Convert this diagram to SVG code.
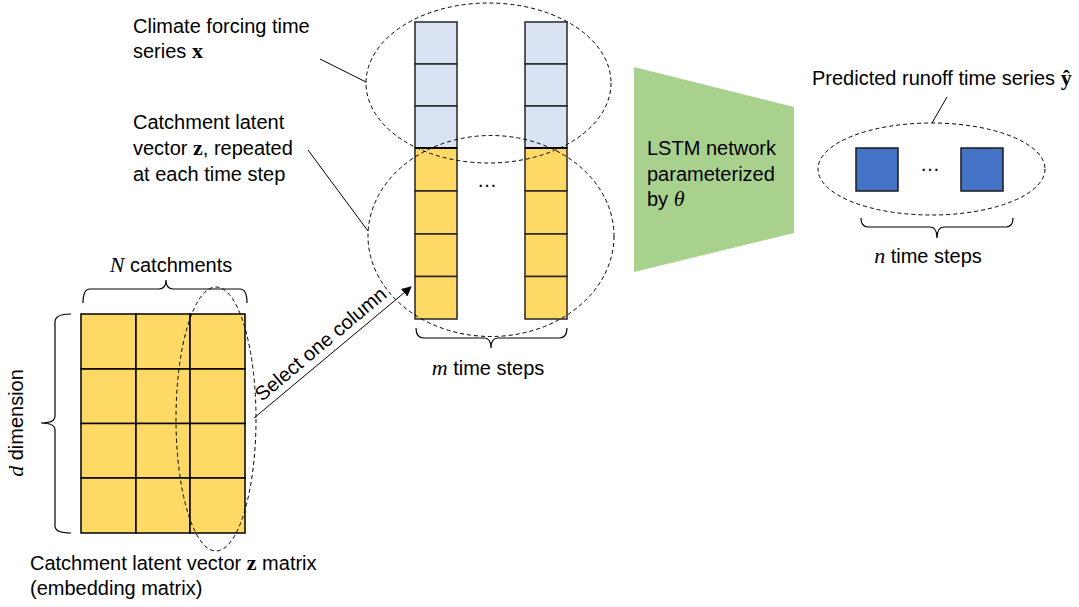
<svg xmlns="http://www.w3.org/2000/svg" width="1079" height="607" viewBox="0 0 1079 607">
<style>
.t{font-family:"Liberation Sans",Arial,sans-serif;font-size:20px;fill:#000}
.m{font-family:"Liberation Serif","Times New Roman",serif;font-style:italic;font-size:22px}
.b{font-family:"Liberation Serif","Times New Roman",serif;font-weight:bold;font-size:22px}
.y{fill:#FFD966;stroke:#000;stroke-width:1.5}
.yc{fill:#FFD966;stroke:#262626;stroke-width:1.5}
.bl{fill:#DAE3F3;stroke:#262626;stroke-width:1.5}
.ds{fill:#4472C4;stroke:#1a1a1a;stroke-width:1.5}
.dash{fill:none;stroke:#000;stroke-width:1;stroke-dasharray:4,3}
.ln{fill:none;stroke:#000;stroke-width:1}
.br{fill:none;stroke:#000;stroke-width:1.2}
</style>
<defs>
<marker id="arr" markerWidth="10" markerHeight="10" refX="9" refY="5" orient="auto" markerUnits="userSpaceOnUse">
<path d="M0,0 L10,5 L0,10 Z" fill="#000"/>
</marker>
</defs>
<rect width="1079" height="607" fill="#fff"/>

<g id="matrix">
<rect class="y" x="81" y="314" width="55" height="55"/>
<rect class="y" x="136" y="314" width="54" height="55"/>
<rect class="y" x="190" y="314" width="55" height="55"/>
<rect class="y" x="81" y="369" width="55" height="54.5"/>
<rect class="y" x="136" y="369" width="54" height="54.5"/>
<rect class="y" x="190" y="369" width="55" height="54.5"/>
<rect class="y" x="81" y="423.5" width="55" height="54.5"/>
<rect class="y" x="136" y="423.5" width="54" height="54.5"/>
<rect class="y" x="190" y="423.5" width="55" height="54.5"/>
<rect class="y" x="81" y="478" width="55" height="55"/>
<rect class="y" x="136" y="478" width="54" height="55"/>
<rect class="y" x="190" y="478" width="55" height="55"/>
<ellipse class="dash" cx="216" cy="419" rx="40" ry="132"/>
<path class="br" d="M83,303 Q83,289 90,289 L159,289 Q166,289 166,280 Q166,289 173,289 L240,289 Q247,289 247,303"/>
<text class="t" x="171" y="272" text-anchor="middle"><tspan class="m">N</tspan> catchments</text>
<path class="br" d="M71,314 Q55,314 55,322 L55,416 Q55,423 41,423 Q55,423 55,430 L55,526 Q55,533 71,533"/>
<text class="t" transform="translate(23,423) rotate(-90)" text-anchor="middle"><tspan class="m">d</tspan> dimension</text>
<text class="t" x="30" y="570">Catchment latent vector <tspan class="b">z</tspan> matrix</text>
<text class="t" x="30" y="595">(embedding matrix)</text>
</g>

<g id="input-sequence">
<rect class="bl" x="415" y="22" width="42" height="42"/>
<rect class="bl" x="415" y="64" width="42" height="42"/>
<rect class="bl" x="415" y="106" width="42" height="42"/>
<rect class="yc" x="415" y="148" width="42" height="43"/>
<rect class="yc" x="415" y="191" width="42" height="43"/>
<rect class="yc" x="415" y="234" width="42" height="42.5"/>
<rect class="yc" x="415" y="276.5" width="42" height="42.5"/>
<rect class="bl" x="525" y="22" width="42" height="42"/>
<rect class="bl" x="525" y="64" width="42" height="42"/>
<rect class="bl" x="525" y="106" width="42" height="42"/>
<rect class="yc" x="525" y="148" width="42" height="43"/>
<rect class="yc" x="525" y="191" width="42" height="43"/>
<rect class="yc" x="525" y="234" width="42" height="42.5"/>
<rect class="yc" x="525" y="276.5" width="42" height="42.5"/>
<line x1="415" y1="148" x2="457" y2="148" stroke="#000" stroke-width="2"/>
<line x1="525" y1="148" x2="567" y2="148" stroke="#000" stroke-width="2"/>
<text class="t" x="487" y="187" text-anchor="middle" font-size="16">…</text>
<ellipse class="dash" cx="488.5" cy="83" rx="122.5" ry="80"/>
<ellipse class="dash" cx="491" cy="236" rx="123" ry="100.5"/>
<path class="br" d="M416,328 Q416,338 424,338 L484,338 Q491,338 491,348 Q491,338 498,338 L559,338 Q567,338 567,328"/>
<text class="t" x="488" y="375" text-anchor="middle"><tspan class="m">m</tspan> time steps</text>
</g>

<g id="climate-label">
<text class="t" x="133" y="33">Climate forcing time</text>
<text class="t" x="133" y="58">series <tspan class="b">x</tspan></text>
</g>

<g id="latent-label">
<text class="t" x="133" y="129">Catchment latent</text>
<text class="t" x="133" y="155">vector <tspan class="b">z</tspan>, repeated</text>
<text class="t" x="133" y="181">at each time step</text>
</g>

<g id="lstm">
<polygon points="634,67 794,107 794,233 634,272" fill="#A9D18E"/>
<text class="t" x="647" y="155">LSTM network</text>
<text class="t" x="647" y="181">parameterized</text>
<text class="t" x="647" y="206">by <tspan class="m">θ</tspan></text>
</g>

<g id="output">
<rect class="ds" x="856" y="148" width="42" height="43"/>
<rect class="ds" x="961" y="148" width="42" height="43"/>
<text class="t" x="930" y="171" text-anchor="middle" font-size="16">…</text>
<ellipse class="dash" cx="931.5" cy="169" rx="113.5" ry="46"/>
<text class="t" x="812" y="85">Predicted runoff time series <tspan class="b">ŷ</tspan></text>
<path class="br" d="M861,218 Q861,227 868,227 L930,227 Q937,227 937,238 Q937,227 944,227 L1006,227 Q1013,227 1013,218"/>
<text class="t" x="928" y="263" text-anchor="middle"><tspan class="m">n</tspan> time steps</text>
</g>

<g id="connectors">
<line class="ln" x1="320" y1="59" x2="366" y2="82"/>
<line class="ln" x1="308" y1="150" x2="368" y2="231"/>
<line class="ln" x1="947" y1="97" x2="932" y2="123"/>
<line class="ln" x1="254" y1="418" x2="411" y2="287" marker-end="url(#arr)"/>
<text class="t" transform="translate(262,402) rotate(-40)">Select one column</text>
</g>
</svg>
